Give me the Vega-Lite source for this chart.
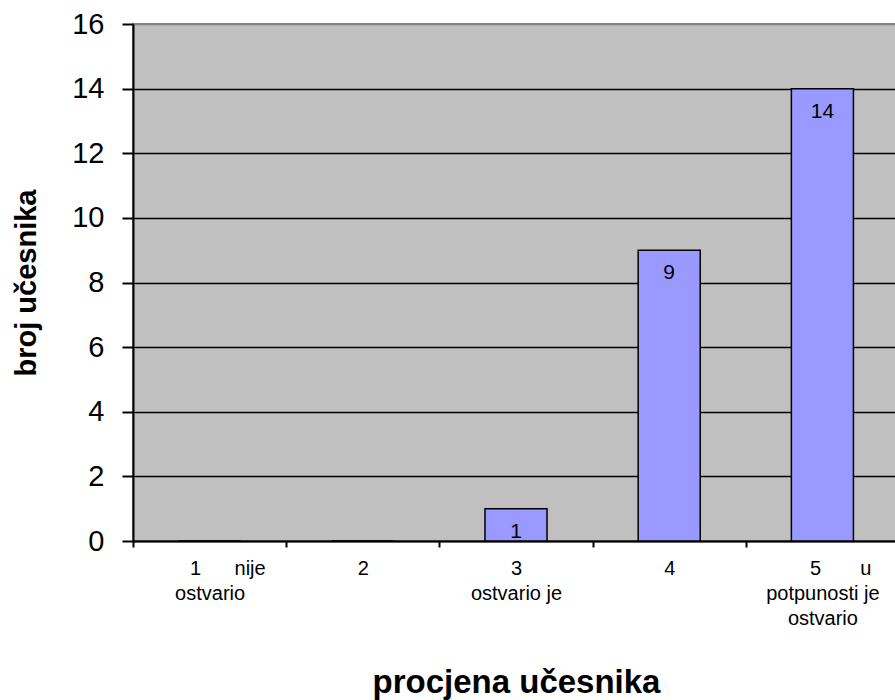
{
  "$schema": "https://vega.github.io/schema/vega-lite/v6.json",
  "width": 766,
  "height": 517,
  "autosize": {"type": "none"},
  "padding": {"left": 133, "top": 24, "right": 0, "bottom": 159},
  "background": "white",
  "config": {
    "view": {"fill": "#C0C0C0", "stroke": "#808080", "strokeWidth": 2},
    "font": "Liberation Sans"
  },
  "data": {
    "values": [
      {"kat": "\u2800\u2800\u00a01\u00a0\u00a0\u00a0\u00a0\u00a0\u00a0nije|ostvario", "broj": 0},
      {"kat": "2", "broj": 0},
      {"kat": "3|ostvario je", "broj": 1},
      {"kat": "4", "broj": 9},
      {"kat": "\u2800\u2800\u00a05\u00a0\u00a0\u00a0\u00a0\u00a0\u00a0\u00a0u|potpunosti je|ostvario", "broj": 14}
    ]
  },
  "encoding": {
    "x": {
      "field": "kat",
      "type": "nominal",
      "sort": null,
      "scale": {"paddingInner": 0, "paddingOuter": 0},
      "axis": {
        "title": "procjena učesnika",
        "titleFont": "Liberation Sans",
        "titleFontSize": 33,
        "titleFontWeight": "bold",
        "titleColor": "black",
        "titlePadding": 38,
        "labelExpr": "split(datum.label, '|')",
        "labelFont": "Liberation Sans",
        "labelFontSize": 20,
        "labelLineHeight": 25,
        "labelColor": "black",
        "labelAngle": 0,
        "labelPadding": 11,
        "labelLimit": 400,
        "tickBand": "extent",
        "tickSize": 6,
        "tickWidth": 2,
        "tickColor": "black",
        "domainColor": "black",
        "domainWidth": 2,
        "grid": false
      }
    }
  },
  "layer": [
    {
      "mark": {"type": "bar", "width": {"band": 0.405}, "fill": "#9999FF", "stroke": "black", "strokeWidth": 1.5},
      "encoding": {
        "y": {
          "field": "broj",
          "type": "quantitative",
          "scale": {"domain": [0, 16], "nice": false},
          "axis": {
            "title": "broj učesnika",
            "titleFont": "Liberation Sans",
            "titleFontSize": 29,
            "titleFontWeight": "bold",
            "titleColor": "black",
            "titlePadding": 30,
            "values": [0, 2, 4, 6, 8, 10, 12, 14, 16],
            "labelFont": "Liberation Sans",
            "labelFontSize": 29,
            "labelColor": "black",
            "labelPadding": 18,
            "tickSize": 11,
            "tickWidth": 2,
            "tickColor": "black",
            "domainColor": "black",
            "domainWidth": 2,
            "grid": true,
            "gridColor": {"condition": {"test": "datum.value == 16", "value": "#808080"}, "value": "black"},
            "gridWidth": 1.5
          }
        }
      }
    },
    {
      "mark": {"type": "text", "font": "Liberation Sans", "fontSize": 21, "baseline": "middle", "dy": 23, "color": "black"},
      "encoding": {
        "y": {"field": "broj", "type": "quantitative"},
        "text": {"condition": {"test": "datum.broj > 0", "field": "broj"}, "value": ""}
      }
    }
  ]
}
